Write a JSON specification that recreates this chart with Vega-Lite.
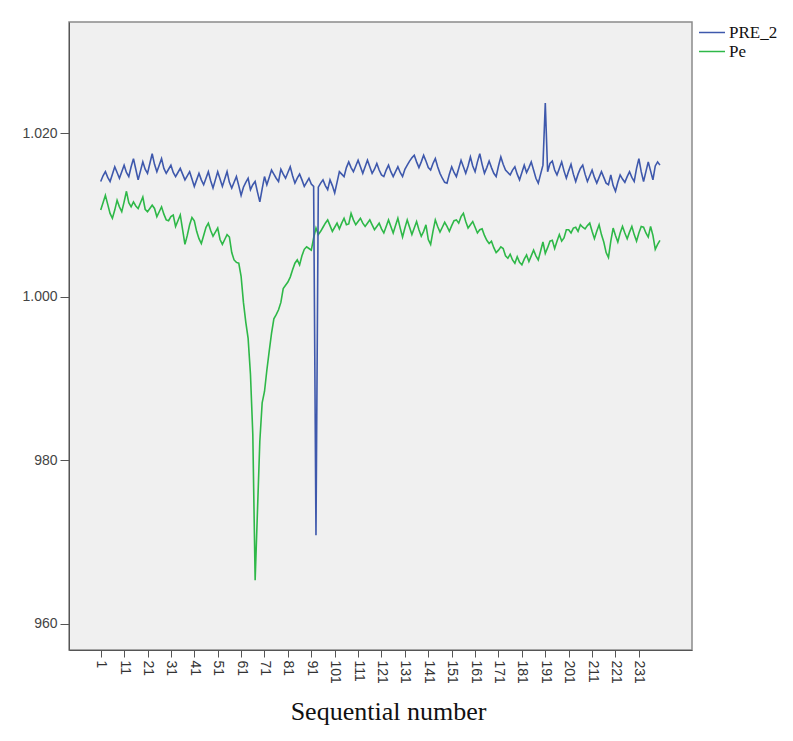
{
  "$schema": "https://vega.github.io/schema/vega-lite/v6.json",
  "autosize": {"type": "none"},
  "padding": {"left": 69, "top": 22, "right": 101, "bottom": 91},
  "width": 623,
  "height": 628,
  "background": "white",
  "config": {
    "view": {"fill": "#F0F0F0", "stroke": "#8a8a8a", "strokeWidth": 1.5}
  },
  "data": {"values": [
{"i":1,"PRE_2":1014.1,"Pe":1010.6},{"i":2,"PRE_2":1014.8,"Pe":1011.5},{"i":3,"PRE_2":1015.3,"Pe":1012.4},{"i":4,"PRE_2":1014.6,"Pe":1011.3},{"i":5,"PRE_2":1014.1,"Pe":1010.2},
{"i":6,"PRE_2":1015.0,"Pe":1009.6},{"i":7,"PRE_2":1015.9,"Pe":1010.6},{"i":8,"PRE_2":1015.2,"Pe":1011.8},{"i":9,"PRE_2":1014.5,"Pe":1011.0},{"i":10,"PRE_2":1015.3,"Pe":1010.4},
{"i":11,"PRE_2":1016.1,"Pe":1011.6},{"i":12,"PRE_2":1015.2,"Pe":1012.9},{"i":13,"PRE_2":1014.7,"Pe":1011.5},{"i":14,"PRE_2":1015.9,"Pe":1011.0},{"i":15,"PRE_2":1016.9,"Pe":1011.6},
{"i":16,"PRE_2":1015.6,"Pe":1011.1},{"i":17,"PRE_2":1014.3,"Pe":1010.8},{"i":18,"PRE_2":1015.4,"Pe":1011.5},{"i":19,"PRE_2":1016.5,"Pe":1012.2},{"i":20,"PRE_2":1015.6,"Pe":1010.7},
{"i":21,"PRE_2":1015.1,"Pe":1010.4},{"i":22,"PRE_2":1016.3,"Pe":1010.8},{"i":23,"PRE_2":1017.5,"Pe":1011.2},{"i":24,"PRE_2":1016.2,"Pe":1010.8},{"i":25,"PRE_2":1015.3,"Pe":1009.8},
{"i":26,"PRE_2":1016.1,"Pe":1010.4},{"i":27,"PRE_2":1016.9,"Pe":1011.0},{"i":28,"PRE_2":1015.7,"Pe":1010.1},{"i":29,"PRE_2":1015.1,"Pe":1009.4},{"i":30,"PRE_2":1015.6,"Pe":1009.3},
{"i":31,"PRE_2":1016.1,"Pe":1009.8},{"i":32,"PRE_2":1015.2,"Pe":1010.0},{"i":33,"PRE_2":1014.7,"Pe":1008.6},{"i":34,"PRE_2":1015.2,"Pe":1009.3},{"i":35,"PRE_2":1015.7,"Pe":1010.0},
{"i":36,"PRE_2":1015.0,"Pe":1008.2},{"i":37,"PRE_2":1014.3,"Pe":1006.4},{"i":38,"PRE_2":1014.8,"Pe":1007.5},{"i":39,"PRE_2":1015.3,"Pe":1008.8},{"i":40,"PRE_2":1014.4,"Pe":1009.7},
{"i":41,"PRE_2":1013.5,"Pe":1009.3},{"i":42,"PRE_2":1014.3,"Pe":1008.0},{"i":43,"PRE_2":1015.1,"Pe":1007.1},{"i":44,"PRE_2":1014.3,"Pe":1006.5},{"i":45,"PRE_2":1013.7,"Pe":1007.5},
{"i":46,"PRE_2":1014.5,"Pe":1008.5},{"i":47,"PRE_2":1015.3,"Pe":1009.0},{"i":48,"PRE_2":1014.2,"Pe":1008.1},{"i":49,"PRE_2":1013.3,"Pe":1007.4},{"i":50,"PRE_2":1014.3,"Pe":1007.9},
{"i":51,"PRE_2":1015.3,"Pe":1008.4},{"i":52,"PRE_2":1014.4,"Pe":1007.0},{"i":53,"PRE_2":1013.5,"Pe":1006.4},{"i":54,"PRE_2":1014.4,"Pe":1007.0},{"i":55,"PRE_2":1015.3,"Pe":1007.6},
{"i":56,"PRE_2":1014.0,"Pe":1007.3},{"i":57,"PRE_2":1013.3,"Pe":1005.4},{"i":58,"PRE_2":1014.0,"Pe":1004.5},{"i":59,"PRE_2":1014.7,"Pe":1004.2},{"i":60,"PRE_2":1013.6,"Pe":1004.1},
{"i":61,"PRE_2":1012.4,"Pe":1002.5},{"i":62,"PRE_2":1013.4,"Pe":999.3},{"i":63,"PRE_2":1014.0,"Pe":996.9},{"i":64,"PRE_2":1014.5,"Pe":994.9},{"i":65,"PRE_2":1013.1,"Pe":990.5},
{"i":66,"PRE_2":1013.7,"Pe":983.2},{"i":67,"PRE_2":1014.1,"Pe":965.3},{"i":68,"PRE_2":1012.8,"Pe":973.8},{"i":69,"PRE_2":1011.6,"Pe":982.3},{"i":70,"PRE_2":1013.2,"Pe":987.0},
{"i":71,"PRE_2":1014.7,"Pe":988.4},{"i":72,"PRE_2":1013.7,"Pe":991.0},{"i":73,"PRE_2":1014.6,"Pe":993.3},{"i":74,"PRE_2":1015.5,"Pe":995.5},{"i":75,"PRE_2":1015.0,"Pe":997.3},
{"i":76,"PRE_2":1014.5,"Pe":997.8},{"i":77,"PRE_2":1014.1,"Pe":998.4},{"i":78,"PRE_2":1015.6,"Pe":999.3},{"i":79,"PRE_2":1015.0,"Pe":1001.0},{"i":80,"PRE_2":1014.5,"Pe":1001.4},
{"i":81,"PRE_2":1015.2,"Pe":1001.8},{"i":82,"PRE_2":1015.9,"Pe":1002.4},{"i":83,"PRE_2":1014.8,"Pe":1003.3},{"i":84,"PRE_2":1013.9,"Pe":1004.1},{"i":85,"PRE_2":1014.5,"Pe":1004.5},
{"i":86,"PRE_2":1015.0,"Pe":1003.9},{"i":87,"PRE_2":1014.3,"Pe":1005.0},{"i":88,"PRE_2":1013.5,"Pe":1005.8},{"i":89,"PRE_2":1014.0,"Pe":1006.1},{"i":90,"PRE_2":1014.5,"Pe":1005.9},
{"i":91,"PRE_2":1013.8,"Pe":1005.7},{"i":92,"PRE_2":1013.5,"Pe":1007.2},{"i":93,"PRE_2":970.8,"Pe":1008.4},{"i":94,"PRE_2":1013.4,"Pe":1007.6},{"i":95,"PRE_2":1013.9,"Pe":1008.0},
{"i":96,"PRE_2":1014.3,"Pe":1008.5},{"i":97,"PRE_2":1013.6,"Pe":1009.0},{"i":98,"PRE_2":1013.1,"Pe":1009.4},{"i":99,"PRE_2":1014.3,"Pe":1008.7},{"i":100,"PRE_2":1013.6,"Pe":1008.0},
{"i":101,"PRE_2":1012.7,"Pe":1008.5},{"i":102,"PRE_2":1014.0,"Pe":1009.0},{"i":103,"PRE_2":1015.3,"Pe":1008.3},{"i":104,"PRE_2":1015.0,"Pe":1009.0},{"i":105,"PRE_2":1014.7,"Pe":1009.6},
{"i":106,"PRE_2":1015.8,"Pe":1008.8},{"i":107,"PRE_2":1016.5,"Pe":1008.9},{"i":108,"PRE_2":1015.8,"Pe":1010.2},{"i":109,"PRE_2":1015.3,"Pe":1009.4},{"i":110,"PRE_2":1016.0,"Pe":1008.8},
{"i":111,"PRE_2":1016.7,"Pe":1009.2},{"i":112,"PRE_2":1015.9,"Pe":1009.6},{"i":113,"PRE_2":1015.1,"Pe":1009.0},{"i":114,"PRE_2":1015.9,"Pe":1008.6},{"i":115,"PRE_2":1016.7,"Pe":1009.0},
{"i":116,"PRE_2":1015.9,"Pe":1009.4},{"i":117,"PRE_2":1015.1,"Pe":1008.8},{"i":118,"PRE_2":1015.6,"Pe":1008.2},{"i":119,"PRE_2":1016.3,"Pe":1008.6},{"i":120,"PRE_2":1015.5,"Pe":1009.0},
{"i":121,"PRE_2":1014.9,"Pe":1008.3},{"i":122,"PRE_2":1014.7,"Pe":1007.8},{"i":123,"PRE_2":1015.5,"Pe":1008.6},{"i":124,"PRE_2":1016.1,"Pe":1009.4},{"i":125,"PRE_2":1015.3,"Pe":1008.6},
{"i":126,"PRE_2":1014.7,"Pe":1007.8},{"i":127,"PRE_2":1015.3,"Pe":1008.7},{"i":128,"PRE_2":1015.9,"Pe":1009.6},{"i":129,"PRE_2":1015.2,"Pe":1008.4},{"i":130,"PRE_2":1014.7,"Pe":1007.3},
{"i":131,"PRE_2":1015.6,"Pe":1008.4},{"i":132,"PRE_2":1016.1,"Pe":1009.4},{"i":133,"PRE_2":1016.6,"Pe":1008.5},{"i":134,"PRE_2":1017.0,"Pe":1007.6},{"i":135,"PRE_2":1017.3,"Pe":1008.4},
{"i":136,"PRE_2":1016.5,"Pe":1009.2},{"i":137,"PRE_2":1015.8,"Pe":1008.2},{"i":138,"PRE_2":1016.5,"Pe":1007.4},{"i":139,"PRE_2":1017.3,"Pe":1008.0},{"i":140,"PRE_2":1016.6,"Pe":1008.8},
{"i":141,"PRE_2":1015.8,"Pe":1007.0},{"i":142,"PRE_2":1015.5,"Pe":1006.4},{"i":143,"PRE_2":1016.3,"Pe":1008.0},{"i":144,"PRE_2":1016.9,"Pe":1009.4},{"i":145,"PRE_2":1015.9,"Pe":1008.6},
{"i":146,"PRE_2":1015.1,"Pe":1007.9},{"i":147,"PRE_2":1014.5,"Pe":1008.5},{"i":148,"PRE_2":1014.0,"Pe":1009.1},{"i":149,"PRE_2":1013.9,"Pe":1008.6},{"i":150,"PRE_2":1015.0,"Pe":1008.0},
{"i":151,"PRE_2":1015.9,"Pe":1008.7},{"i":152,"PRE_2":1015.2,"Pe":1009.3},{"i":153,"PRE_2":1014.7,"Pe":1009.4},{"i":154,"PRE_2":1015.7,"Pe":1009.0},{"i":155,"PRE_2":1016.7,"Pe":1009.8},
{"i":156,"PRE_2":1015.9,"Pe":1010.2},{"i":157,"PRE_2":1015.1,"Pe":1009.2},{"i":158,"PRE_2":1016.0,"Pe":1008.4},{"i":159,"PRE_2":1017.1,"Pe":1008.8},{"i":160,"PRE_2":1016.0,"Pe":1009.2},
{"i":161,"PRE_2":1015.3,"Pe":1008.5},{"i":162,"PRE_2":1016.5,"Pe":1007.8},{"i":163,"PRE_2":1017.5,"Pe":1008.2},{"i":164,"PRE_2":1016.2,"Pe":1008.3},{"i":165,"PRE_2":1015.1,"Pe":1007.5},
{"i":166,"PRE_2":1015.8,"Pe":1006.9},{"i":167,"PRE_2":1016.6,"Pe":1006.5},{"i":168,"PRE_2":1015.8,"Pe":1006.8},{"i":169,"PRE_2":1015.1,"Pe":1006.0},{"i":170,"PRE_2":1014.7,"Pe":1005.4},
{"i":171,"PRE_2":1016.0,"Pe":1005.7},{"i":172,"PRE_2":1017.1,"Pe":1006.1},{"i":173,"PRE_2":1016.2,"Pe":1005.9},{"i":174,"PRE_2":1015.5,"Pe":1005.0},{"i":175,"PRE_2":1015.2,"Pe":1004.7},
{"i":176,"PRE_2":1014.9,"Pe":1005.2},{"i":177,"PRE_2":1015.5,"Pe":1004.5},{"i":178,"PRE_2":1015.9,"Pe":1004.1},{"i":179,"PRE_2":1015.0,"Pe":1004.9},{"i":180,"PRE_2":1014.3,"Pe":1004.2},
{"i":181,"PRE_2":1015.2,"Pe":1003.9},{"i":182,"PRE_2":1016.1,"Pe":1004.6},{"i":183,"PRE_2":1015.2,"Pe":1005.1},{"i":184,"PRE_2":1015.8,"Pe":1004.3},{"i":185,"PRE_2":1016.5,"Pe":1005.0},
{"i":186,"PRE_2":1015.5,"Pe":1005.7},{"i":187,"PRE_2":1014.5,"Pe":1005.0},{"i":188,"PRE_2":1013.9,"Pe":1004.5},{"i":189,"PRE_2":1015.0,"Pe":1005.6},{"i":190,"PRE_2":1016.1,"Pe":1006.7},
{"i":191,"PRE_2":1023.7,"Pe":1005.3},{"i":192,"PRE_2":1015.3,"Pe":1006.0},{"i":193,"PRE_2":1016.3,"Pe":1006.8},{"i":194,"PRE_2":1016.6,"Pe":1006.9},{"i":195,"PRE_2":1015.5,"Pe":1005.9},
{"i":196,"PRE_2":1014.9,"Pe":1006.8},{"i":197,"PRE_2":1015.7,"Pe":1007.6},{"i":198,"PRE_2":1016.5,"Pe":1006.8},{"i":199,"PRE_2":1015.4,"Pe":1007.2},{"i":200,"PRE_2":1014.5,"Pe":1008.2},
{"i":201,"PRE_2":1015.4,"Pe":1008.2},{"i":202,"PRE_2":1016.2,"Pe":1007.8},{"i":203,"PRE_2":1015.0,"Pe":1008.4},{"i":204,"PRE_2":1014.1,"Pe":1008.5},{"i":205,"PRE_2":1015.0,"Pe":1008.0},
{"i":206,"PRE_2":1015.7,"Pe":1008.8},{"i":207,"PRE_2":1016.1,"Pe":1008.5},{"i":208,"PRE_2":1015.0,"Pe":1008.3},{"i":209,"PRE_2":1014.1,"Pe":1008.7},{"i":210,"PRE_2":1014.8,"Pe":1009.0},
{"i":211,"PRE_2":1015.5,"Pe":1008.0},{"i":212,"PRE_2":1014.6,"Pe":1007.1},{"i":213,"PRE_2":1013.9,"Pe":1008.0},{"i":214,"PRE_2":1014.6,"Pe":1008.8},{"i":215,"PRE_2":1015.3,"Pe":1007.6},
{"i":216,"PRE_2":1014.6,"Pe":1006.7},{"i":217,"PRE_2":1013.9,"Pe":1005.4},{"i":218,"PRE_2":1013.7,"Pe":1004.8},{"i":219,"PRE_2":1014.9,"Pe":1006.8},{"i":220,"PRE_2":1013.6,"Pe":1008.4},
{"i":221,"PRE_2":1012.9,"Pe":1007.5},{"i":222,"PRE_2":1014.0,"Pe":1006.7},{"i":223,"PRE_2":1014.9,"Pe":1007.8},{"i":224,"PRE_2":1014.4,"Pe":1008.6},{"i":225,"PRE_2":1014.0,"Pe":1007.8},
{"i":226,"PRE_2":1014.7,"Pe":1007.1},{"i":227,"PRE_2":1015.3,"Pe":1007.9},{"i":228,"PRE_2":1014.6,"Pe":1008.6},{"i":229,"PRE_2":1014.1,"Pe":1007.6},{"i":230,"PRE_2":1015.7,"Pe":1006.8},
{"i":231,"PRE_2":1016.9,"Pe":1007.8},{"i":232,"PRE_2":1015.3,"Pe":1008.6},{"i":233,"PRE_2":1014.1,"Pe":1008.5},{"i":234,"PRE_2":1015.3,"Pe":1007.8},{"i":235,"PRE_2":1016.5,"Pe":1007.3},
{"i":236,"PRE_2":1015.4,"Pe":1008.6},{"i":237,"PRE_2":1014.3,"Pe":1007.5},{"i":238,"PRE_2":1016.0,"Pe":1005.8},{"i":239,"PRE_2":1016.5,"Pe":1006.4},{"i":240,"PRE_2":1016.1,"Pe":1006.9}
  ]},
  "transform": [{"fold": ["PRE_2", "Pe"], "as": ["series", "v"]}],
  "encoding": {
    "x": {
      "field": "i", "type": "quantitative",
      "scale": {"domain": [-12.55, 253.7], "nice": false, "zero": false},
      "axis": {
        "values": [1,11,21,31,41,51,61,71,81,91,101,111,121,131,141,151,161,171,181,191,201,211,221,231],
        "labelAngle": 90, "labelAlign": "left", "labelBaseline": "middle",
        "labelFont": "Liberation Sans", "labelFontSize": 14, "labelColor": "#333333",
        "labelPadding": 3, "labelOverlap": false,
        "tickSize": 7, "tickColor": "#555555", "domainColor": "#555555", "grid": false,
        "title": "Sequential number", "titleFont": "Liberation Serif", "titleFontSize": 26,
        "titleFontWeight": "normal", "titleColor": "#111111", "titlePadding": 15, "titleX": 319
      }
    },
    "y": {
      "field": "v", "type": "quantitative",
      "scale": {"domain": [956.76, 1033.62], "nice": false, "zero": false},
      "axis": {
        "values": [960, 980, 1000, 1020],
        "labelExpr": "replace(format(datum.value, ','), ',', '.')",
        "labelFont": "Liberation Sans", "labelFontSize": 14, "labelColor": "#444444",
        "labelPadding": 3, "tickSize": 9, "tickColor": "#555555", "domainColor": "#555555",
        "grid": false, "title": null
      }
    },
    "color": {
      "field": "series", "type": "nominal",
      "scale": {"domain": ["PRE_2", "Pe"], "range": ["#3E58AC", "#2EB848"]},
      "legend": {
        "title": null, "orient": "none", "legendX": 628, "legendY": 2,
        "padding": 0, "symbolType": "M-1,0H3", "symbolSize": 169, "symbolStrokeWidth": 1.5,
        "labelFont": "Liberation Serif", "labelFontSize": 17, "labelColor": "#111111",
        "labelOffset": 15, "rowPadding": 1
      }
    }
  },
  "layer": [
    {"transform": [{"filter": "datum.series === 'Pe'"}], "mark": {"type": "line", "strokeWidth": 1.6}},
    {"transform": [{"filter": "datum.series === 'PRE_2'"}], "mark": {"type": "line", "strokeWidth": 1.6}}
  ]
}
